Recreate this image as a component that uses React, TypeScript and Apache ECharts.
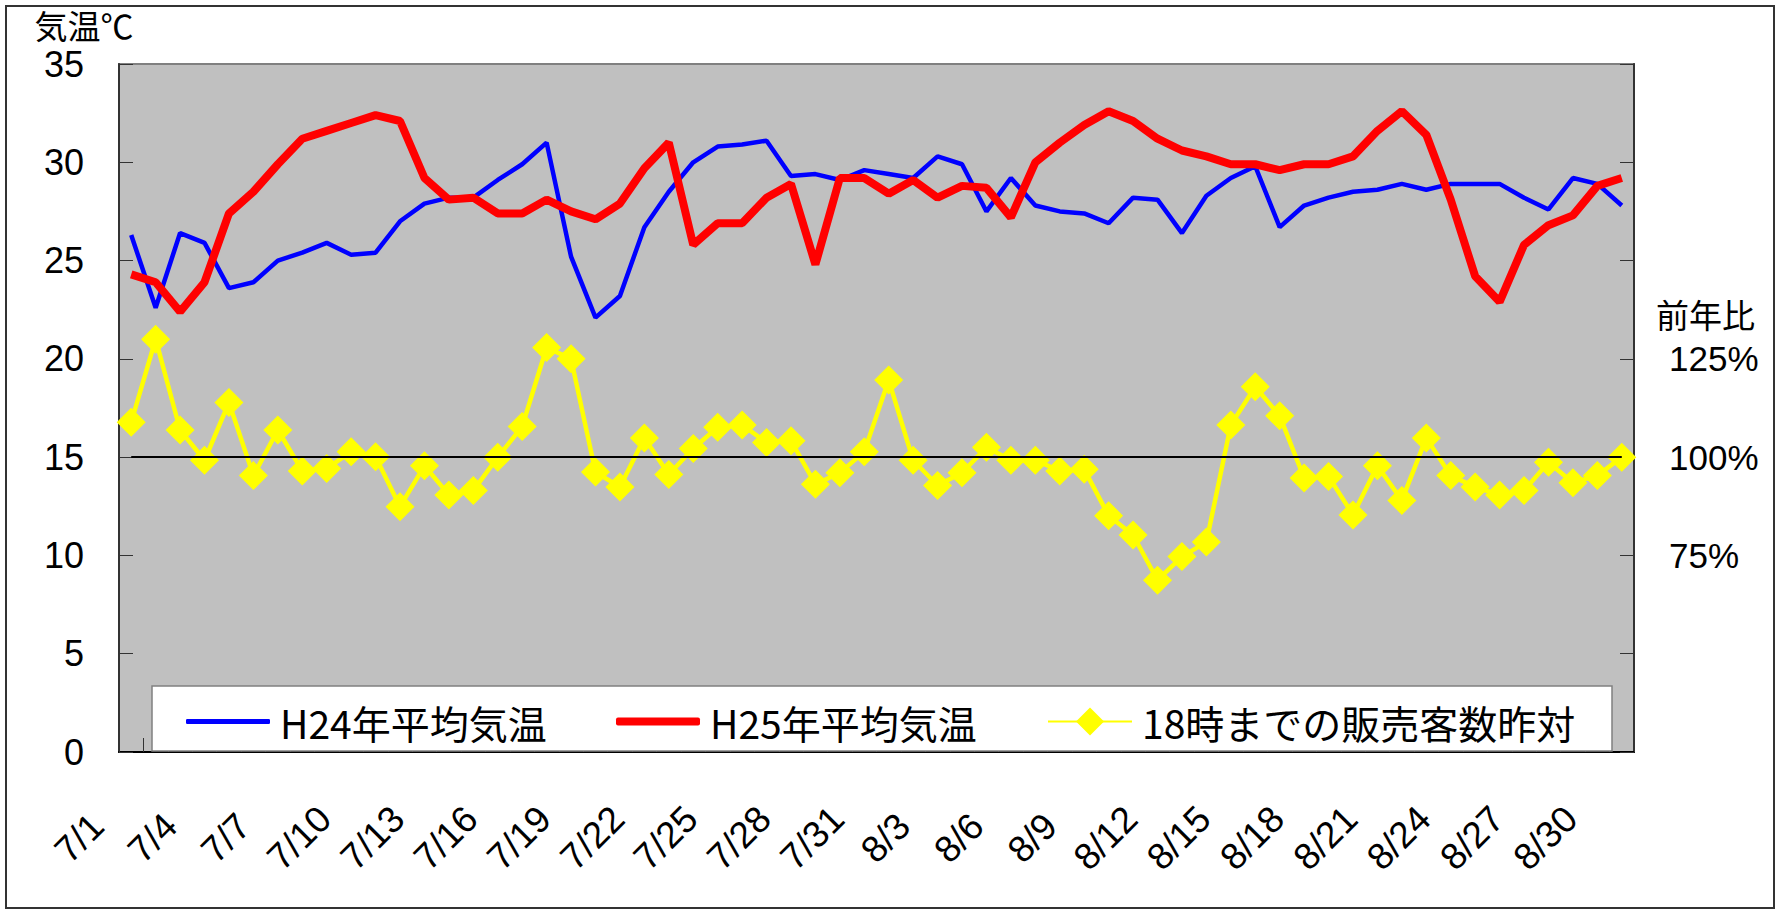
import React, { useEffect, useRef } from 'react';
import * as echarts from 'echarts';

const categories = [
  '7/1', '7/2', '7/3', '7/4', '7/5', '7/6', '7/7', '7/8', '7/9', '7/10',
  '7/11', '7/12', '7/13', '7/14', '7/15', '7/16', '7/17', '7/18', '7/19', '7/20',
  '7/21', '7/22', '7/23', '7/24', '7/25', '7/26', '7/27', '7/28', '7/29', '7/30', '7/31',
  '8/1', '8/2', '8/3', '8/4', '8/5', '8/6', '8/7', '8/8', '8/9', '8/10',
  '8/11', '8/12', '8/13', '8/14', '8/15', '8/16', '8/17', '8/18', '8/19', '8/20',
  '8/21', '8/22', '8/23', '8/24', '8/25', '8/26', '8/27', '8/28', '8/29', '8/30', '8/31',
];

const h24Temp = [
  26.3, 22.6, 26.4, 25.9, 23.6, 23.9, 25.0, 25.4, 25.9, 25.3,
  25.4, 27.0, 27.9, 28.2, 28.2, 29.1, 29.9, 31.0, 25.2, 22.1,
  23.2, 26.7, 28.5, 30.0, 30.8, 30.9, 31.1, 29.3, 29.4, 29.1, 29.6,
  29.4, 29.2, 30.3, 29.9, 27.5, 29.2, 27.8, 27.5, 27.4, 26.9,
  28.2, 28.1, 26.4, 28.3, 29.2, 29.8, 26.7, 27.8, 28.2, 28.5,
  28.6, 28.9, 28.6, 28.9, 28.9, 28.9, 28.2, 27.6, 29.2, 28.9, 27.8,
];

const h25Temp = [
  24.3, 23.9, 22.4, 23.9, 27.4, 28.5, 29.9, 31.2, 31.6, 32.0,
  32.4, 32.1, 29.2, 28.1, 28.2, 27.4, 27.4, 28.1, 27.5, 27.1,
  27.9, 29.7, 31.0, 25.8, 26.9, 26.9, 28.2, 28.9, 24.8, 29.2, 29.2,
  28.4, 29.1, 28.2, 28.8, 28.7, 27.2, 30.0, 31.0, 31.9, 32.6,
  32.1, 31.2, 30.6, 30.3, 29.9, 29.9, 29.6, 29.9, 29.9, 30.3,
  31.6, 32.6, 31.4, 28.1, 24.2, 22.9, 25.8, 26.8, 27.3, 28.8, 29.2,
];

const salesRatio = [
  108.9, 130.0, 106.9, 99.2, 113.9, 95.3, 106.9, 96.5, 97.1, 101.4,
  100.1, 87.4, 97.8, 90.4, 91.5, 100.0, 107.8, 127.9, 125.0, 96.2,
  92.4, 104.9, 95.6, 102.2, 107.6, 108.2, 103.7, 104.2, 93.1, 96.0, 101.4,
  119.6, 99.2, 92.8, 96.0, 102.5, 99.2, 99.2, 96.5, 96.9, 85.1,
  80.2, 68.7, 74.7, 78.4, 108.2, 117.9, 110.5, 94.7, 95.1, 85.3,
  97.8, 89.0, 104.9, 95.3, 92.4, 90.4, 91.5, 98.7, 93.5, 95.3, 100.0,
];

const seriesNames = ['H24年平均気温', 'H25年平均気温', '18時までの販売客数昨対'];
const ratioLabelValues = [75, 100, 125];
const baseRatio = 100;

export default function App() {
  const ref = useRef<HTMLDivElement>(null);

  useEffect(() => {
    if (!ref.current) return;
    const chart = echarts.init(ref.current, null, { renderer: 'svg' });
    const jp = '"Noto Sans CJK JP", sans-serif';
    const num = '"Liberation Sans", Arial, sans-serif';

    const legendText = { fontFamily: jp, fontSize: 39, color: '#000', padding: [0, 0, 0, 5] };
    const legendTop = 702;

    chart.setOption({
      animation: false,
      backgroundColor: '#ffffff',
      grid: {
        left: 119,
        top: 64,
        width: 1515,
        height: 688,
        show: true,
        backgroundColor: '#C0C0C0',
        borderColor: '#808080',
        borderWidth: 2,
      },
      xAxis: {
        type: 'category',
        data: categories,
        boundaryGap: true,
        axisLine: { show: true, lineStyle: { color: '#000', width: 2 } },
        axisTick: { show: true, inside: true, length: 14, interval: 0, lineStyle: { color: '#333' } },
        axisLabel: {
          interval: 2,
          rotate: 45,
          fontSize: 37,
          fontFamily: num,
          color: '#000',
          align: 'center',
          verticalAlign: 'middle',
          margin: 34,
          padding: [0, 147, 0, 0],
        },
        splitLine: { show: false },
      },
      yAxis: [
        {
          type: 'value',
          min: 0,
          max: 35,
          interval: 5,
          position: 'left',
          name: '気温℃',
          nameLocation: 'end',
          nameGap: 24,
          nameTextStyle: {
            fontFamily: jp,
            fontSize: 33,
            lineHeight: 30,
            color: '#000',
            align: 'center',
            verticalAlign: 'bottom',
            padding: [0, 70, 0, 0],
          },
          axisLine: { show: true, lineStyle: { color: '#333', width: 2 } },
          axisTick: { show: true, inside: true, length: 14, lineStyle: { color: '#333' } },
          axisLabel: { fontSize: 36, fontFamily: num, color: '#000', margin: 35 },
          splitLine: { show: false },
        },
        {
          type: 'value',
          min: 25,
          max: 200,
          interval: 25,
          position: 'right',
          axisLine: { show: true, lineStyle: { color: '#333', width: 2 } },
          axisTick: { show: true, inside: true, length: 14, lineStyle: { color: '#333' } },
          axisLabel: {
            fontSize: 35,
            fontFamily: num,
            color: '#000',
            margin: 35,
            formatter: (v: number) => (ratioLabelValues.includes(v) ? v + '%' : ''),
          },
          splitLine: { show: false },
        },
      ],
      legend: [
        {
          left: 186, top: legendTop, padding: 0, z: 6,
          itemWidth: 84, itemHeight: 5, icon: 'roundRect',
          textStyle: legendText,
          data: [seriesNames[0]],
        },
        {
          left: 616, top: legendTop, padding: 0, z: 6,
          itemWidth: 84, itemHeight: 8, icon: 'roundRect',
          textStyle: legendText,
          data: [seriesNames[1]],
        },
        {
          left: 1047, top: legendTop, padding: 0, z: 6,
          itemWidth: 84, itemHeight: 35,
          textStyle: legendText,
          data: [seriesNames[2]],
        },
      ],
      graphic: [
        {
          type: 'rect',
          z: 3,
          shape: { x: 152, y: 686, width: 1460, height: 65 },
          style: { fill: '#ffffff', stroke: '#808080', lineWidth: 1.5 },
        },
        {
          type: 'rect',
          z: 20,
          shape: { x: 6, y: 6, width: 1768, height: 902 },
          style: { fill: 'none', stroke: '#333', lineWidth: 2 },
        },
        {
          type: 'text',
          z: 20,
          left: 1656,
          top: 297,
          style: { text: '前年比', font: `33px ${jp}`, fill: '#000' },
        },
      ],
      series: [
        {
          name: seriesNames[0],
          type: 'line',
          data: h24Temp,
          yAxisIndex: 0,
          symbol: 'none',
          color: '#0000FF',
          lineStyle: { color: '#0000FF', width: 4.5 },
          z: 2,
        },
        {
          name: seriesNames[1],
          type: 'line',
          data: h25Temp,
          yAxisIndex: 0,
          symbol: 'none',
          color: '#FF0000',
          lineStyle: { color: '#FF0000', width: 8 },
          z: 3,
        },
        {
          name: seriesNames[2],
          type: 'line',
          data: salesRatio,
          yAxisIndex: 1,
          symbol: 'diamond',
          symbolSize: 29,
          showAllSymbol: true,
          color: '#FFFF00',
          itemStyle: { color: '#FFFF00' },
          lineStyle: { color: '#FFFF00', width: 4.5 },
          z: 4,
          markLine: {
            silent: true,
            symbol: ['none', 'none'],
            label: { show: false },
            lineStyle: { color: '#000', width: 2, type: 'solid' },
            z: 5,
            data: [
              [
                { coord: [categories[0], baseRatio] },
                { coord: [categories[categories.length - 1], baseRatio] },
              ],
            ],
          },
        },
      ],
    });

    return () => chart.dispose();
  }, []);

  return (
    <div
      ref={ref}
      style={{ position: 'absolute', left: 0, top: 0, width: 1776, height: 910, background: '#fff' }}
    />
  );
}
